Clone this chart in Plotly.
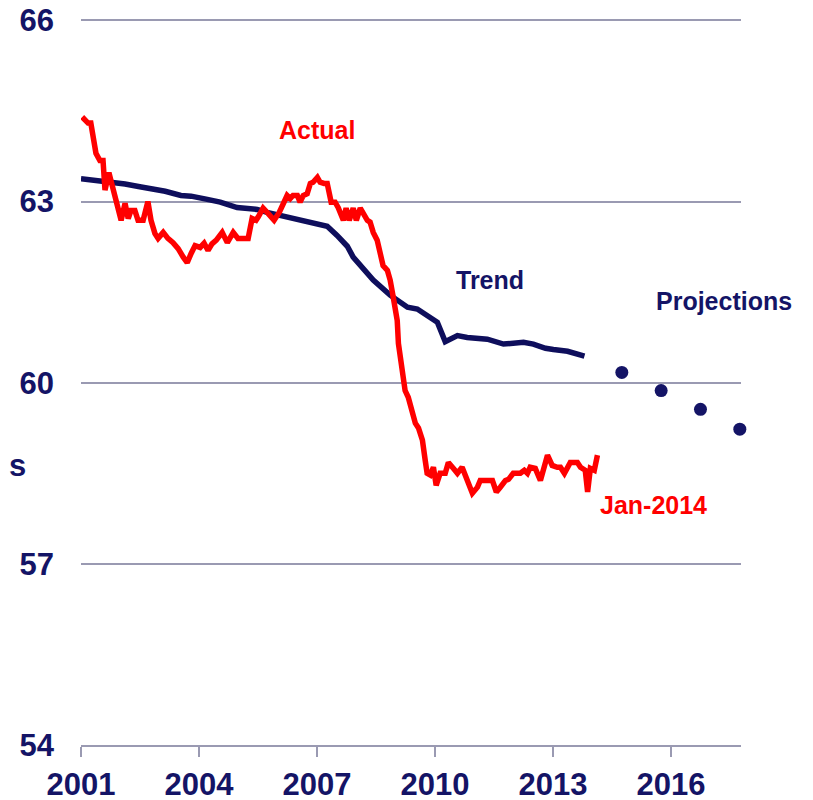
import plotly.graph_objects as go

# Actual series (decimal year, value)
actual_x = [2001.03, 2001.18, 2001.25, 2001.31, 2001.38, 2001.48, 2001.56, 2001.61, 2001.71, 2001.76,
            2001.87, 2001.94, 2002.02, 2002.12, 2002.20, 2002.27, 2002.37, 2002.45, 2002.58, 2002.70,
            2002.78, 2002.88, 2002.96, 2003.09, 2003.21, 2003.34, 2003.47, 2003.60, 2003.70, 2003.80,
            2003.90, 2004.03, 2004.13, 2004.23, 2004.33, 2004.44, 2004.59, 2004.72, 2004.87, 2004.99,
            2005.25, 2005.35, 2005.45, 2005.50, 2005.63, 2005.76, 2005.91, 2006.04, 2006.14, 2006.24,
            2006.32, 2006.39, 2006.50, 2006.57, 2006.65, 2006.75, 2006.83, 2006.90, 2007.01, 2007.08,
            2007.18, 2007.26, 2007.36, 2007.46, 2007.54, 2007.67, 2007.74, 2007.82, 2007.92, 2008.00,
            2008.10, 2008.18, 2008.28, 2008.35, 2008.43, 2008.53, 2008.61, 2008.68, 2008.79, 2008.86,
            2008.94, 2009.04, 2009.07, 2009.17, 2009.24, 2009.32, 2009.42, 2009.50, 2009.58, 2009.68,
            2009.75, 2009.80, 2009.88, 2009.96, 2010.03, 2010.13, 2010.26, 2010.34, 2010.47, 2010.57,
            2010.69, 2010.82, 2010.95, 2011.08, 2011.15, 2011.46, 2011.56, 2011.66, 2011.79, 2011.87,
            2011.99, 2012.17, 2012.27, 2012.35, 2012.42, 2012.55, 2012.68, 2012.86, 2012.98, 2013.11,
            2013.19, 2013.29, 2013.44, 2013.62, 2013.70, 2013.82, 2013.88, 2013.95, 2014.05, 2014.13]
actual_y = [64.40, 64.30, 64.30, 64.06, 63.80, 63.68, 63.68, 63.19, 63.48, 63.35,
            63.07, 62.89, 62.69, 62.97, 62.72, 62.85, 62.85, 62.69, 62.69, 63.00,
            62.69, 62.47, 62.39, 62.49, 62.39, 62.32, 62.22, 62.08, 61.99, 62.14,
            62.27, 62.24, 62.31, 62.19, 62.30, 62.36, 62.49, 62.32, 62.49, 62.39,
            62.39, 62.72, 62.69, 62.74, 62.89, 62.80, 62.69, 62.82, 62.99, 63.10,
            63.05, 63.10, 63.10, 62.99, 63.10, 63.13, 63.30, 63.32, 63.40, 63.32,
            63.30, 63.30, 62.99, 62.99, 62.90, 62.69, 62.89, 62.69, 62.89, 62.69,
            62.89, 62.80, 62.69, 62.66, 62.49, 62.36, 62.14, 61.94, 61.86, 61.70,
            61.41, 61.03, 60.65, 60.20, 59.87, 59.76, 59.54, 59.33, 59.25, 59.05,
            58.72, 58.50, 58.47, 58.60, 58.30, 58.50, 58.50, 58.68, 58.58, 58.50,
            58.60, 58.35, 58.17, 58.27, 58.38, 58.38, 58.19, 58.27, 58.38, 58.40,
            58.50, 58.50, 58.55, 58.50, 58.60, 58.58, 58.38, 58.80, 58.63, 58.60,
            58.60, 58.50, 58.68, 58.68, 58.60, 58.55, 58.19, 58.58, 58.55, 58.80]

# Trend series
trend_x = [2001.00, 2001.43, 2001.76, 2002.12, 2002.53, 2002.78, 2003.14, 2003.54, 2003.80, 2004.18,
           2004.54, 2004.97, 2005.48, 2005.73, 2006.24, 2006.57, 2007.26, 2007.51, 2007.77, 2007.92,
           2008.43, 2008.86, 2009.30, 2009.55, 2009.88, 2010.06, 2010.26, 2010.57, 2010.82, 2011.33,
           2011.74, 2012.25, 2012.50, 2012.81, 2013.01, 2013.37, 2013.80]
trend_y = [63.38, 63.35, 63.32, 63.29, 63.24, 63.22, 63.17, 63.10, 63.09, 63.04,
           62.99, 62.90, 62.87, 62.82, 62.74, 62.71, 62.59, 62.44, 62.26, 62.08,
           61.70, 61.45, 61.25, 61.22, 61.08, 61.00, 60.68, 60.78, 60.75, 60.72,
           60.64, 60.67, 60.64, 60.57, 60.55, 60.52, 60.44]

# Projections
proj_x = [2014.75, 2015.75, 2016.75, 2017.75]
proj_y = [60.17, 59.87, 59.56, 59.23]

x_ticks = [2001, 2004, 2007, 2010, 2013, 2016]
y_ticks = [54, 57, 60, 63, 66]

NAVY = "#141466"
LINE_NAVY = "#0e0e5c"
RED = "#ff0000"
GRID = "#9a9ab2"
FONT = "Liberation Sans, Arial, sans-serif"

fig = go.Figure()
fig.add_trace(go.Scatter(x=trend_x, y=trend_y, mode="lines",
                         line=dict(color=LINE_NAVY, width=5.5), showlegend=False))
fig.add_trace(go.Scatter(x=actual_x, y=actual_y, mode="lines",
                         line=dict(color=RED, width=5.5), showlegend=False))
fig.add_trace(go.Scatter(x=proj_x, y=proj_y, mode="markers",
                         marker=dict(color=NAVY, size=13), showlegend=False,
                         cliponaxis=False))

ann_font = dict(family=FONT, size=25)
fig.add_annotation(x=2007.0, y=64.18, text="<b>Actual</b>", showarrow=False,
                   font=dict(ann_font, color=RED))
fig.add_annotation(x=2011.41, y=61.70, text="<b>Trend</b>", showarrow=False,
                   font=dict(ann_font, color=NAVY))
fig.add_annotation(x=2017.36, y=61.36, text="<b>Projections</b>", showarrow=False,
                   font=dict(ann_font, color=NAVY))
fig.add_annotation(x=2015.55, y=57.97, text="<b>Jan-2014</b>", showarrow=False,
                   font=dict(ann_font, color=RED))
fig.add_annotation(xref="paper", x=-73 / 660, y=58.63, xanchor="left", text="<b>s</b>",
                   showarrow=False, font=dict(family=FONT, size=31, color=NAVY),
                   borderpad=0)

fig.update_layout(
    width=813, height=800,
    margin=dict(l=73, r=80, t=10, b=63, autoexpand=False),
    paper_bgcolor="white", plot_bgcolor="white",
    font=dict(family=FONT, color=NAVY),
)
fig.update_xaxes(range=[2001, 2017.78], tickvals=x_ticks,
                 ticktext=[f"<b>{t}</b>" for t in x_ticks],
                 tickfont=dict(family=FONT, size=31, color=NAVY),
                 showgrid=False, zeroline=False, automargin=False,
                 showline=True, linecolor=GRID, linewidth=2,
                 ticks="outside", ticklen=10, tickwidth=2, tickcolor=GRID,
                 ticklabelstandoff=1, ticklabeloverflow="allow")
fig.update_yaxes(range=[54, 66.04], tickvals=y_ticks,
                 ticktext=[f"<b>{t}</b>" for t in y_ticks],
                 tickfont=dict(family=FONT, size=31, color=NAVY),
                 showgrid=True, gridcolor=GRID, gridwidth=2, automargin=False,
                 zeroline=False, showline=False, ticks="",
                 ticklabelstandoff=26, ticklabeloverflow="allow")

fig.write_html("out.html")
